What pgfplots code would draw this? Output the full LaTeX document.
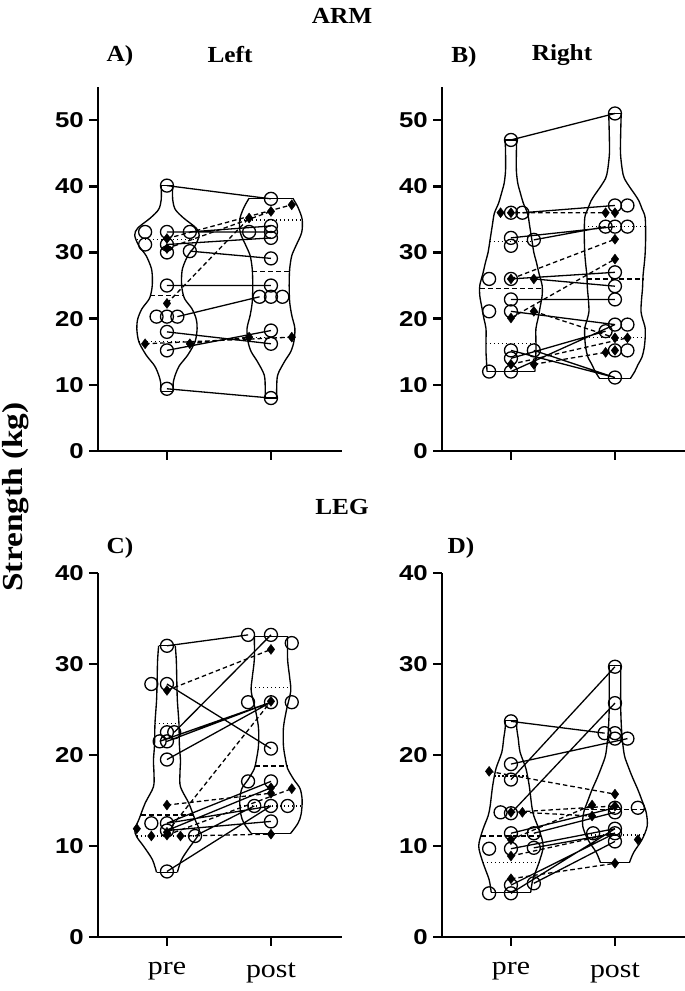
\documentclass[border=0pt]{standalone}
\usepackage{pgfplots}
\pgfplotsset{compat=1.18}
\usepackage{pgfplotstable}
\usepackage{fontspec}
\setmainfont{Liberation Serif}
\newfontfamily\tickfont{Liberation Sans}[FakeStretch=1.2]
\newfontfamily\ttlfont{Liberation Serif}[FakeStretch=1.1]
\newfontfamily\labfont{Liberation Serif}[FakeStretch=1.15]

\pgfplotsset{
 panel/.style={
  scale only axis, width=244pt, height=364pt,
  xmin=0.337, xmax=2.683, ymin=0,
  axis lines*=left,
  axis line style={line width=2.8pt, black},
  xtick={1,2},
  tick align=outside,
  major tick length=9pt,
  tick style={line width=2.6pt, black},
  /pgf/number format/assume math mode=true,
  yticklabel style={font=\tickfont\bfseries\fontsize{21.5}{21.5}\selectfont, inner sep=0pt, xshift=-5pt},
  xticklabel style={font=\labfont\fontsize{26}{26}\selectfont, yshift=-13pt},
  clip=false,
  unbounded coords=jump,
 },
 vio/.style={black, line width=1.35pt, smooth},
 vend/.style={black, line width=1.35pt},
 spair/.style={black, line width=1.3pt},
 dpair/.style={black, line width=1.3pt, dash pattern=on 4.5pt off 3pt},
 med/.style={black, line width=1.3pt, dash pattern=on 5pt off 3pt},
 quart/.style={black, line width=1.2pt, dash pattern=on 1.2pt off 2.8pt},
 circ/.style={only marks, mark=o, mark size=6.5pt, mark options={solid, line width=1.3pt, black}},
 dia/.style={only marks, mark=diamond*, mark size=5pt, mark options={solid, black}},
}
\newcommand\violin[2]{%
 \addplot[vio] table[x expr={#1+\thisrow{w}}, y=y] {#2};
 \addplot[vio] table[x expr={#1-\thisrow{w}}, y=y] {#2};
}

% ---------- violin half-width profiles ----------
\pgfplotstableread{
y w
9.0 0.06
10.3 0.06
11.5 0.08
12.9 0.12
14.5 0.20
16.5 0.27
18.5 0.29
20.0 0.28
21.5 0.24
23.0 0.17
24.5 0.145
26.0 0.14
27.6 0.15
29.5 0.20
31.0 0.27
32.6 0.31
33.7 0.28
35.2 0.16
36.5 0.08
38.0 0.055
40.1 0.055
}\vApre
\pgfplotstableread{
y w
8.0 0.055
9.5 0.055
11.5 0.065
13.5 0.13
15.0 0.19
16.5 0.22
18.5 0.23
20.5 0.20
22.5 0.18
25.0 0.175
27.5 0.18
29.5 0.20
31.0 0.24
33.0 0.295
35.0 0.30
36.8 0.26
38.2 0.21
}\vApost
\pgfplotstableread{
y w
12.0 0.23
13.5 0.235
15.0 0.24
16.5 0.24
18.5 0.24
20.0 0.26
21.7 0.28
23.5 0.30
25.0 0.30
26.8 0.27
28.5 0.245
30.0 0.22
32.0 0.20
34.0 0.18
35.9 0.16
37.4 0.12
39.0 0.09
40.5 0.065
42.4 0.052
45.0 0.052
47.0 0.055
}\vBpre
\pgfplotstableread{
y w
11.0 0.15
12.0 0.19
13.0 0.22
14.2 0.26
15.5 0.28
17.0 0.29
18.6 0.29
20.0 0.265
21.1 0.25
22.8 0.255
24.6 0.265
26.5 0.27
28.0 0.28
29.8 0.29
32.5 0.295
35.3 0.29
36.6 0.26
37.8 0.23
38.8 0.19
39.8 0.145
41.2 0.09
42.5 0.07
45.0 0.053
48.0 0.055
51.0 0.06
}\vBpost
\pgfplotstableread{
y w
7.1 0.10
8.5 0.14
9.9 0.22
11.0 0.29
11.8 0.31
12.9 0.27
14.7 0.21
16.5 0.13
18.0 0.125
19.4 0.13
21.0 0.12
23.5 0.115
26.0 0.10
28.0 0.095
30.4 0.09
32.0 0.08
}\vCpre
\pgfplotstableread{
y w
11.4 0.19
12.5 0.26
13.5 0.29
15.0 0.30
16.3 0.28
17.3 0.22
18.5 0.16
19.5 0.14
21.0 0.12
23.0 0.12
25.0 0.15
27.0 0.19
28.5 0.18
30.5 0.16
33.0 0.16
}\vCpost
\pgfplotstableread{
y w
4.9 0.19
6.3 0.21
8.2 0.27
10.0 0.31
11.8 0.27
13.3 0.22
14.4 0.20
16.6 0.176
18.5 0.144
20.3 0.088
21.8 0.07
22.9 0.056
23.8 0.055
}\vDpre
\pgfplotstableread{
y w
8.2 0.14
9.3 0.18
10.7 0.26
12.2 0.31
13.7 0.30
15.0 0.26
16.2 0.22
17.5 0.17
18.8 0.125
20.0 0.09
21.8 0.07
23.5 0.06
25.4 0.055
27.5 0.055
29.8 0.055
}\vDpost

\begin{document}
\begin{tikzpicture}
\path[use as bounding box] (0,0) rectangle (685pt,991pt);

% ================= A =================
\begin{axis}[panel, at={(98pt,540pt)}, anchor=south west, ymax=55, ytick={0,10,20,30,40,50}, xticklabels={}]
\violin{1}{\vApre}
\violin{2}{\vApost}
\addplot[vend] coordinates {(0.94,9.0) (1.06,9.0) (1.5,nan) (0.945,40.1) (1.055,40.1) (1.5,nan) (1.945,8.0) (2.055,8.0) (1.5,nan) (1.79,38.2) (2.21,38.2)};
\addplot[quart] coordinates {(0.71,31.9) (1.29,31.9) (1.5,nan) (0.73,16.5) (1.27,16.5) (1.5,nan) (1.70,34.9) (2.30,34.9) (1.5,nan) (1.775,17.2) (2.225,17.2)};
\addplot[med] coordinates {(0.84,23.5) (1.16,23.5) (1.5,nan) (1.82,27.1) (2.18,27.1)};
\addplot[spair] coordinates {(1,40.1) (2,38.1) (1.5,nan) (1.22,33.1) (2,34.0) (1.5,nan) (1,33.1) (2,33.1) (1.5,nan) (1,31.2) (2,32.2) (1.5,nan) (1.22,30.2) (2,29.1) (1.5,nan) (1,25.0) (2,25.0) (1.5,nan) (1.1,20.3) (1.89,23.3) (1.5,nan) (1,18.0) (2,16.2) (1.5,nan) (1,15.2) (2,18.2) (1.5,nan) (1,9.4) (2,8.0)};
\addplot[dpair] coordinates {(1,32.1) (2.2,37.2) (1.5,nan) (1,30.6) (2,36.2) (1.5,nan) (1,22.3) (1.79,35.2) (1.5,nan) (1.22,16.2) (1.79,17.2) (1.5,nan) (0.79,16.2) (2.2,17.2)};
\addplot[circ] coordinates {(1,40.1) (0.79,33.1) (0.79,31.2) (1,33.1) (1.22,33.1) (1,31.2) (1,30.0) (1.22,30.2) (1,25.0) (0.9,20.3) (1,20.3) (1.1,20.3) (1,18.0) (1,15.2) (1,9.4)
 (2,38.1) (2,34.0) (2,33.1) (1.79,33.1) (2,32.2) (2,29.1) (2,25.0) (1.89,23.3) (2,23.3) (2.11,23.3) (2,18.2) (2,16.2) (2,8.0)};
\addplot[dia] coordinates {(1,32.1) (1,30.6) (1,22.3) (0.79,16.2) (1.22,16.2) (2.2,37.2) (2,36.2) (1.79,35.2) (1.79,17.2) (2.2,17.2)};
\end{axis}

% ================= B =================
\begin{axis}[panel, at={(442pt,540pt)}, anchor=south west, ymax=55, ytick={0,10,20,30,40,50}, xticklabels={}]
\violin{1}{\vBpre}
\violin{2}{\vBpost}
\addplot[vend] coordinates {(0.77,12.0) (1.23,12.0) (1.5,nan) (0.945,47.0) (1.055,47.0) (1.5,nan) (1.85,11.0) (2.15,11.0) (1.5,nan) (1.94,51.0) (2.06,51.0)};
\addplot[quart] coordinates {(0.795,31.7) (1.205,31.7) (1.5,nan) (0.76,16.3) (1.24,16.3) (1.5,nan) (1.705,33.9) (2.295,33.9) (1.5,nan) (1.71,17.2) (2.29,17.2)};
\addplot[med] coordinates {(0.70,24.6) (1.30,24.6) (1.5,nan) (1.73,26.0) (2.27,26.0)};
\addplot[spair] coordinates {(1,47) (2,51) (1.5,nan) (1.11,36) (2,37.1) (1.5,nan) (1,32.2) (2,33.9) (1.5,nan) (1.22,31.9) (1.91,33.9) (1.5,nan) (1,26) (2,27) (1.5,nan) (1.22,26) (2,24.9) (1.5,nan) (1,22.9) (2,22.9) (1.5,nan) (1,21.1) (2,19.1) (1.5,nan) (1.22,15.2) (2,11.1) (1.5,nan) (1,15.2) (2,11.1) (1.5,nan) (1,14) (1.91,18.1) (1.5,nan) (1,12) (2,19.1)};
\addplot[dpair] coordinates {(0.9,36) (1.91,36) (1.5,nan) (1,26) (2,32) (1.5,nan) (1,20.1) (2,29) (1.5,nan) (1.22,21.1) (2,17.1) (1.5,nan) (1.22,13.1) (1.91,14.9) (1.5,nan) (1,13.1) (2.12,17.1)};
\addplot[circ] coordinates {(1,47) (1,36) (1.11,36) (1,32.2) (1,31) (1.22,31.9) (0.79,26) (1,26) (1,22.9) (0.79,21.1) (1,21.1) (1,15.2) (1,14) (1.22,15.2) (0.79,12) (1,12)
 (2,51) (2,37.1) (2.12,37.1) (1.91,33.9) (2,33.9) (2.12,33.9) (2,27) (2,24.9) (2,22.9) (2,19.1) (2.12,19.1) (1.91,18.1) (2,15.2) (2.12,15.2) (2,11.1)};
\addplot[dia] coordinates {(0.9,36) (1,36) (1,26) (1.22,26) (1,20.1) (1.22,21.1) (1,13.1) (1.22,13.1) (1.91,36) (2,36) (2,32) (2,29) (2,17.1) (2.12,17.1) (1.91,14.9) (2,15.2)};
\end{axis}

% ================= C =================
\begin{axis}[panel, at={(98pt,54pt)}, anchor=south west, ymax=40, ytick={0,10,20,30,40}, xticklabels={pre,post}]
\violin{1}{\vCpre}
\violin{2}{\vCpost}
\addplot[vend] coordinates {(0.9,7.1) (1.1,7.1) (1.5,nan) (0.92,32.0) (1.08,32.0) (1.5,nan) (1.81,11.4) (2.19,11.4) (1.5,nan) (1.84,33.0) (2.16,33.0)};
\addplot[quart] coordinates {(0.885,23.5) (1.115,23.5) (1.5,nan) (0.71,11.1) (1.29,11.1) (1.5,nan) (1.81,27.4) (2.19,27.4) (1.5,nan) (1.70,14.4) (2.30,14.4)};
\addplot[med] coordinates {(0.75,13.4) (1.25,13.4) (1.5,nan) (1.845,18.8) (2.155,18.8)};
\addplot[spair] coordinates {(1,32) (1.78,33.2) (1.5,nan) (1,27.8) (2,20.7) (1.5,nan) (1.07,22.5) (2,33.2) (1.5,nan) (0.93,21.5) (2,25.8) (1.5,nan) (1,21.5) (2,25.8) (1.5,nan) (1,19.5) (2,25.8) (1.5,nan) (1,12.5) (2,17.1) (1.5,nan) (1,11.7) (2,16.4) (1.5,nan) (1,12.5) (2,14.4) (1.5,nan) (1,11.7) (2,12.7) (1.5,nan) (1.27,11.1) (1.84,14.4) (1.5,nan) (1,7.2) (2,14.4)};
\addplot[dpair] coordinates {(1,27.1) (2,31.6) (1.5,nan) (1,14.5) (2,15.8) (1.5,nan) (1,11.5) (2,25.9) (1.5,nan) (1.13,11.1) (2,11.3) (1.5,nan) (1,11.2) (2.2,16.3)};
\addplot[circ] coordinates {(1,32) (0.85,27.8) (1,27.8) (1,22.5) (1.07,22.5) (0.93,21.5) (1,21.5) (1,19.5) (0.85,12.5) (1,12.5) (1,11.7) (1.27,11.1) (1,7.2)
 (1.78,33.2) (2,33.2) (2.2,32.3) (1.78,25.8) (2,25.8) (2.2,25.8) (2,20.7) (1.78,17.1) (2,17.1) (1.84,14.4) (2,14.4) (2.16,14.4) (2,12.7)};
\addplot[dia] coordinates {(1,27.1) (1,14.5) (0.71,11.9) (0.85,11.1) (1,11.5) (1,11.2) (1.13,11.1) (2,31.6) (2,25.9) (2,16.4) (2,15.8) (2.2,16.3) (2,11.3)};
\end{axis}

% ================= D =================
\begin{axis}[panel, at={(442pt,54pt)}, anchor=south west, ymax=40, ytick={0,10,20,30,40}, xticklabels={pre,post}]
\violin{1}{\vDpre}
\violin{2}{\vDpost}
\addplot[vend] coordinates {(0.81,4.9) (1.19,4.9) (1.5,nan) (0.945,23.8) (1.055,23.8) (1.5,nan) (1.86,8.2) (2.14,8.2) (1.5,nan) (1.945,29.8) (2.055,29.8)};
\addplot[quart] coordinates {(0.84,17.7) (1.16,17.7) (1.5,nan) (0.73,8.2) (1.27,8.2) (1.5,nan) (1.73,11.2) (2.27,11.2)};
\addplot[med] coordinates {(0.71,11.1) (1.29,11.1) (1.5,nan) (1.70,14.0) (2.30,14.0)};
\addplot[spair] coordinates {(1,23.7) (1.9,22.4) (1.5,nan) (1,19) (2.12,21.8) (1.5,nan) (1,17.3) (2,29.7) (1.5,nan) (1,13.6) (2,25.7) (1.5,nan) (1,11.4) (2,14.2) (1.5,nan) (1.22,11.4) (2,13.7) (1.5,nan) (1,9.7) (2,11.9) (1.5,nan) (1.22,9.8) (2,11.4) (1.5,nan) (1,5.7) (2,11.4) (1.5,nan) (1.22,5.9) (2,10.5) (1.5,nan) (1,4.8) (2,11.9)};
\addplot[dpair] coordinates {(0.79,18.2) (2,15.7) (1.5,nan) (1.11,13.7) (1.78,13.3) (1.5,nan) (1,13.7) (2,14.4) (1.5,nan) (1,10.7) (1.78,14.5) (1.5,nan) (1,8.9) (2,11.4) (1.5,nan) (1,6.4) (2,8.1)};
\addplot[circ] coordinates {(1,23.7) (1,19) (1,17.3) (0.9,13.7) (1,13.6) (1,11.4) (1.22,11.4) (0.79,9.7) (1,9.7) (1.22,9.8) (1,5.7) (1.22,5.9) (0.79,4.8) (1,4.8)
 (2,29.7) (2,25.7) (1.9,22.4) (2,22.4) (2,21.8) (2.12,21.8) (2.22,14.2) (2,14.2) (2,13.7) (1.79,11.4) (2,11.9) (2,11.4) (2,10.5)};
\addplot[dia] coordinates {(0.79,18.2) (1.11,13.7) (1,13.7) (1,10.7) (1,8.9) (1,6.4) (2,15.7) (1.78,14.5) (2,14.4) (1.78,13.3) (2.22,10.7) (2,8.1)};
\end{axis}

% ---------- titles ----------
\begin{scope}[every node/.style={font=\ttlfont\bfseries\fontsize{23}{23}\selectfont, inner sep=0pt}]
\node at (342pt,975pt) {ARM};
\node at (120pt,935pt) {A)};
\node at (230pt,936pt) {Left};
\node at (464pt,934pt) {B)};
\node at (562pt,936pt) {Right};
\node at (342pt,484pt) {LEG};
\node at (120pt,443pt) {C)};
\node at (461pt,443pt) {D)};
\end{scope}
\node[rotate=90, inner sep=0pt, font=\labfont\bfseries\fontsize{29}{29}\selectfont] at (16pt,494pt) {Strength (kg)};
\end{tikzpicture}
\end{document}
